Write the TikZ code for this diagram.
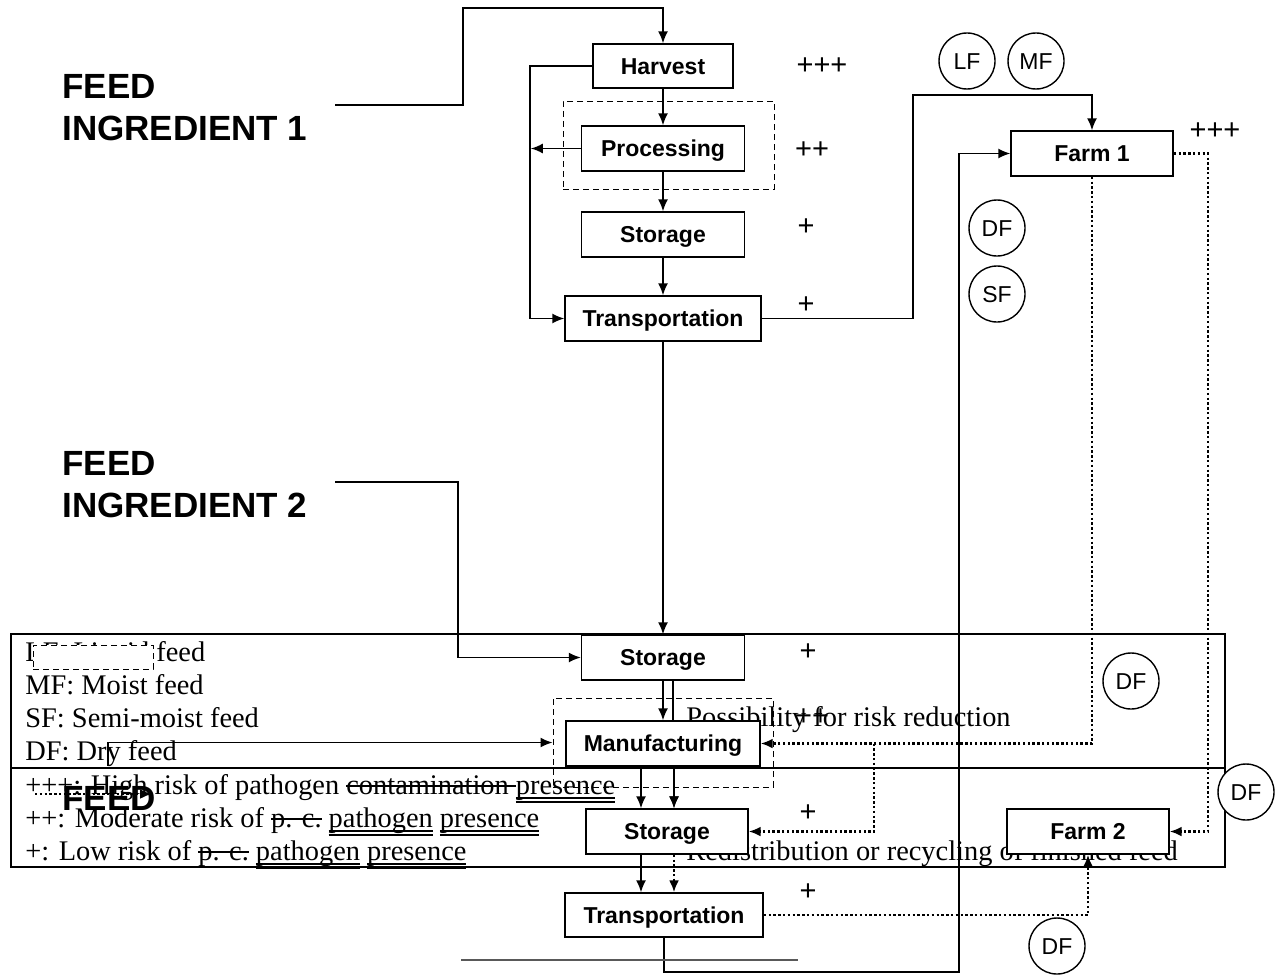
\documentclass[tikz,border=0pt]{standalone}
\usepackage{fontspec}
\setmainfont{Liberation Serif}
\setsansfont{Liberation Sans}
\usetikzlibrary{arrows.meta, positioning, calc}

% struck-out and double-underlined words of the legend
\newcommand\strk[1]{{\setbox0\hbox{#1}\rlap{\vrule height 0.30em depth -0.25em width \wd0}\box0}}
\newcommand\dul[1]{{\setbox0\hbox{#1}\rlap{\vrule height -0.12em depth 0.17em width \wd0}%
  \rlap{\vrule height -0.25em depth 0.30em width \wd0}\box0}}

\tikzset{
  stage/.style={draw, fill=white, line width=0.7pt, inner sep=0pt, minimum height=22.5pt,
    text height=8.3pt, text depth=0pt,
    font=\sffamily\bfseries\fontsize{11.5}{13}\selectfont},
  zone/.style={draw, dash pattern=on 3pt off 2pt, line width=0.5pt, inner sep=0pt},
  tag/.style={draw, circle, fill=white, line width=0.7pt, minimum size=28pt, inner sep=0pt,
    text height=8pt, text depth=0pt, font=\sffamily\fontsize{11.5}{13}\selectfont},
  risk/.style={inner sep=0pt, font=\sffamily\fontsize{14.5}{16}\selectfont},
  source/.style={anchor=north west, inner sep=0pt, align=left,
    font=\sffamily\bfseries\fontsize{17.5}{21}\selectfont},
  legend/.style={anchor=base west, inner sep=0pt, font=\fontsize{14.2}{17}\selectfont},
  flow/.style={line width=0.8pt, -{Latex[length=6pt,width=5pt]}},
  reuse/.style={line width=1.3pt, dash pattern=on 1.2pt off 1.2pt, -{Latex[length=6pt,width=5pt]}},
}

\begin{document}
\begin{tikzpicture}[x=0.5pt, y=-0.5pt]
\useasboundingbox (0,0) rectangle (1277,974);

% legend frame and its texts
\draw[line width=1pt] (11,634) rectangle (1225,867);
\draw[line width=1pt] (11,768) -- (1225,768);
\node[legend] (lgLF) at (25,661) {LF: Liquid feed};
\node[legend] (lgMF) at (25,694) {MF: Moist feed};
\node[legend] (lgSF) at (25,727) {SF: Semi-moist feed};
\node[legend] (lgDF) at (25,760) {DF: Dry feed};
\node[legend] (lgHigh) at (25,794) {+++: High risk of pathogen \strk{contamination }\dul{presence}};
\node[legend] (lgMid) at (25,827) {++: Moderate risk of \strk{p. c.} \dul{pathogen} \dul{presence}};
\node[legend] (lgLow) at (25,860) {+: Low risk of \strk{p. c.} \dul{pathogen} \dul{presence}};
\node[legend] (lgZone) at (686,726) {Possibility for risk reduction};
\node[legend] (lgReuse) at (686,860) {Redistribution or recycling of finished feed};
\node[zone, fill=white, minimum width=60pt, minimum height=12pt] (lgMask) at (93,657) {};

% feed sources
\node[source] (ing1) at (62,74) {FEED\\INGREDIENT 1};
\node[source] (ing2) at (62,451) {FEED\\INGREDIENT 2};
\coordinate (in1) at (335,105);
\coordinate (in2) at (335,482);

% risk reduction zones
\node[zone, minimum width=105.5pt, minimum height=44pt] (proczone) at (668.5,145) {};
\node[zone, minimum width=110pt, minimum height=44.5pt] (mfgzone) at (663,742.5) {};

% ingredient chain
\node[stage, minimum width=70pt, minimum height=22pt] (harvest) at (663,66) {Harvest};
\node[stage, minimum width=81.5pt] (proc) at (663,148.5) {Processing};
\node[stage, minimum width=81.5pt] (stor1) at (663,234.5) {Storage};
\node[stage, minimum width=98pt] (trans1) at (663,318.5) {Transportation};

% feed chain
\node[stage, minimum width=81.5pt] (stor2) at (663,657.5) {Storage};
\node[stage, minimum width=97pt] (manuf) at (663,743.5) {Manufacturing};
\node[stage, minimum width=81pt] (stor3) at (667,831.5) {Storage};
\node[stage, minimum width=99pt, minimum height=22pt] (trans2) at (664,915) {Transportation};

% farms
\node[stage, minimum width=81pt] (farm1) at (1092,153.5) {Farm 1};
\node[stage, minimum width=81pt] (farm2) at (1088,831.5) {Farm 2};

% risk levels
\node[risk] at (822,66) {+++};
\node[risk] at (812,150) {++};
\node[risk] at (806,227) {+};
\node[risk] at (806,305) {+};
\node[risk] at (1215,131) {+++};
\node[risk] at (808,652) {+};
\node[risk] at (812,717) {++};
\node[risk] at (808,813) {+};
\node[risk] at (808,892) {+};

% solid flows
\draw[flow] (in1) -| (463,8) -| (harvest.north);
\draw[flow] (harvest) -- (proc);
\draw[flow] (proc) -- (stor1);
\draw[flow] (stor1) -- (trans1);
\draw[flow] (harvest.west) -| (530,318.5) -- (trans1.west);
\draw[flow] (proc.west) -- ++(-50,0);
\draw[flow] (trans1.east) -| (913,95) -| (farm1.north);
\draw[flow] (trans1) -- (stor2);
\draw[flow] (in2) -| (458,657.5) -- (stor2.west);
\draw[flow] (stor2) -- (manuf);
\draw[line width=0.8pt] ([xshift=5pt]stor2.south) -- ([xshift=5pt]stor2.south |- manuf.north);
\draw[flow] ([xshift=-11pt]manuf.south) -- ([xshift=-11pt]manuf.south |- stor3.north);
\draw[flow] ([xshift=5.5pt]manuf.south) -- ([xshift=5.5pt]manuf.south |- stor3.north);
\draw[flow] ([xshift=-13pt]stor3.south) -- ([xshift=-13pt]stor3.south |- trans2.north);
\draw[flow] (trans2.south) |- (959,972) |- (farm1.west);
\coordinate (lgfeed) at (108,766);
\draw[flow] (lgfeed) |- (mfgzone.west);

% recycling of finished feed
\coordinate (split) at (874,743.5);
\coordinate (lgdot) at (35,794);
\draw[reuse] (farm1.south) |- (manuf.east);
\draw[reuse] (split) |- (stor3.east);
\draw[reuse] (farm1.east) -- (1208,153.5) |- (farm2.east);
\draw[reuse] (trans2.east) -| (farm2.south);
\draw[reuse] ([xshift=5.5pt]manuf.south) -- ([xshift=5.5pt]manuf.south |- stor3.north);
\draw[reuse] ([xshift=3.5pt]stor3.south) -- ([xshift=3.5pt]stor3.south |- trans2.north);
\draw[reuse] (lgdot) -- (152,794);
\node[source, anchor=base west] (feed) at (62,810) {FEED};

% feed types
\node[tag] (lf) at (967,61) {LF};
\node[tag] (mf) at (1036,61) {MF};
\node[tag] (df1) at (997,228) {DF};
\node[tag] (sf) at (997,294) {SF};
\node[tag] (df2) at (1131,681) {DF};
\node[tag] (df3) at (1246,792) {DF};
\node[tag] (df4) at (1057,946) {DF};

\draw[black!65, line width=0.6pt] (461,960) -- (798,960);
\end{tikzpicture}
\end{document}
